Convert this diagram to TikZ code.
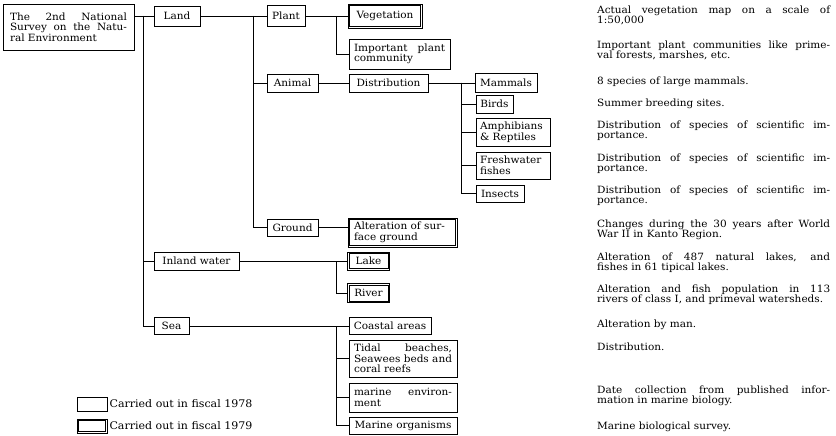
\documentclass[tikz,border=0pt]{standalone}
\usepackage{fontspec}
\setmainfont[FakeStretch=1.05]{DejaVu Serif}
\newcommand\jl[1]{\leavevmode\hbox to \hsize{\spaceskip=0.32em plus 6em minus 0.1em\relax #1}}
\begin{document}
\begin{tikzpicture}[x=1pt,y=-1pt,
  every node/.style={font=\fontsize{10pt}{10.5pt}\selectfont},
  box/.style={draw, line width=0.8pt, inner xsep=4pt, inner ysep=1pt, anchor=center, align=left},
  dbox/.style={box, line width=0.7pt},
  inner/.style={line width=0.7pt},
  desc/.style={anchor=north west, text width=233pt, inner sep=0pt, align=left},
  conn/.style={line width=0.8pt},
  legtext/.style={anchor=west, inner xsep=2pt, font=\fontsize{10.5pt}{11pt}\selectfont}]
\fill[white] (0,0) rectangle (836,436);
\useasboundingbox (0,0) rectangle (836,436);
% boxes
\node[box, text width=117pt, inner xsep=7pt, minimum height=46pt] (root) at (68.5,27)
  {\jl{The 2nd National}\\ \jl{Survey on the Natu-}\\ ral Environment};
\node[box, minimum width=46pt, minimum height=20pt] (land) at (177,16) {Land};
\node[box, minimum width=38pt, minimum height=21pt] (plant) at (286,16) {Plant};
\node[dbox, minimum width=74pt, minimum height=24pt] (veg) at (385,16) {Vegetation};
\node[box, text width=91pt, inner xsep=5pt, minimum height=30pt] (imp) at (399.5,54)
  {\jl{Important plant}\\ community};
\node[box, minimum width=51pt, minimum height=18pt] (animal) at (292.5,83) {Animal};
\node[box, minimum width=79pt, minimum height=18pt] (dist) at (388.5,83) {Distribution};
\node[box, minimum width=62pt, minimum height=19pt] (mam) at (506,83) {Mammals};
\node[box, minimum width=37pt, minimum height=18pt] (birds) at (494.5,104) {Birds};
\node[box, text width=66pt, minimum height=28pt] (amph) at (513,132) {Amphibians\\ \& Reptiles};
\node[box, text width=66pt, minimum height=27pt] (fresh) at (513,165.5) {Freshwater\\ fishes};
\node[box, minimum width=48pt, minimum height=17pt] (insects) at (500,193.5) {Insects};
\node[box, minimum width=51pt, minimum height=17pt] (ground) at (292.5,227.5) {Ground};
\node[dbox, text width=97pt, inner xsep=6pt, minimum height=29pt] (alt) at (402.5,232.5)
  {Alteration of sur-\\ face ground};
\node[box, minimum width=85pt, minimum height=18pt] (inland) at (196.5,261) {Inland water};
\node[dbox, minimum width=42pt, minimum height=18pt] (lake) at (368.5,261) {Lake};
\node[dbox, minimum width=42pt, minimum height=19pt] (river) at (368.5,293) {River};
\node[box, minimum width=35pt, minimum height=17pt] (sea) at (171.5,326) {Sea};
\node[box, minimum width=82pt, minimum height=17pt] (coast) at (390,326) {Coastal areas};
\node[box, text width=98pt, inner xsep=5pt, minimum height=37pt] (tidal) at (403,358.5)
  {\jl{Tidal beaches,}\\ \jl{Seawees beds and}\\ coral reefs};
\node[box, text width=98pt, inner xsep=5pt, minimum height=29pt] (menv) at (403,397.5)
  {\jl{marine environ-}\\ ment};
\node[box, minimum width=108pt, minimum height=17pt] (morg) at (403,425.5) {Marine organisms};
% legend
\node[box, minimum width=30pt, minimum height=14pt] (leg1) at (92,404) {};
\node[dbox, minimum width=30pt, minimum height=14pt] (leg2) at (92,426) {};
\node[legtext] (leg1t) at (leg1.east) {Carried out in fiscal 1978};
\node[legtext] (leg2t) at (leg2.east) {Carried out in fiscal 1979};
% inner frames of the double boxes
\foreach \n in {veg,alt,lake,river,leg2}
  \draw[inner] ([xshift=2pt,yshift=-2pt]\n.north west) rectangle ([xshift=-2pt,yshift=2pt]\n.south east);
% connectors
\path (land.west) ++(-10,0) coordinate (t1);
\path (plant.west) ++(-13,0) coordinate (t2);
\path (veg.west) ++(-11,0) coordinate (t3);
\path (mam.west) ++(-13,0) coordinate (t4);
\path (lake.west) ++(-11,0) coordinate (t5);
\path (coast.west) ++(-12,0) coordinate (t6);
\draw[conn] (root.east |- land.west) -- (land.west);
\draw[conn] (t1) |- (inland.west);
\draw[conn] (t1) |- (sea.west);
\draw[conn] (land.east) -- (plant.west);
\draw[conn] (t2) |- (animal.west);
\draw[conn] (t2) |- (ground.west);
\draw[conn] (plant.east) -- (veg.west);
\draw[conn] (t3) |- (imp.west);
\draw[conn] (animal.east) -- (dist.west);
\draw[conn] (dist.east) -- (mam.west);
\draw[conn] (t4) |- (birds.west);
\draw[conn] (t4) |- (amph.west);
\draw[conn] (t4) |- (fresh.west);
\draw[conn] (t4) |- (insects.west);
\draw[conn] (ground.east) -- (ground.east -| alt.west);
\draw[conn] (inland.east) -- (lake.west);
\draw[conn] (t5) |- (river.west);
\draw[conn] (sea.east) -- (coast.west);
\draw[conn] (t6) |- (tidal.west);
\draw[conn] (t6) |- (menv.west);
\draw[conn] (t6) |- (morg.west);
% descriptions
\node[desc] (d1) at (597,5.5) {\jl{Actual vegetation map on a scale of}\\ 1:50,000};
\node[desc] (d2) at (597,40.5) {\jl{Important plant communities like prime-}\\ val forests, marshes, etc.};
\node[desc] (d3) at (597,76.5) {8 species of large mammals.};
\node[desc] (d4) at (597,98.5) {Summer breeding sites.};
\node[desc] (d5) at (597,120.5) {\jl{Distribution of species of scientific im-}\\ portance.};
\node[desc] (d6) at (597,153.5) {\jl{Distribution of species of scientific im-}\\ portance.};
\node[desc] (d7) at (597,185.5) {\jl{Distribution of species of scientific im-}\\ portance.};
\node[desc] (d8) at (597,219.5) {\jl{Changes during the 30 years after World}\\ War II in Kanto Region.};
\node[desc] (d9) at (597,252.5) {\jl{Alteration of 487 natural lakes, and}\\ fishes in 61 tipical lakes.};
\node[desc] (d10) at (597,284.5) {\jl{Alteration and fish population in 113}\\ rivers of class I, and primeval watersheds.};
\node[desc] (d11) at (597,319.5) {Alteration by man.};
\node[desc] (d12) at (597,342.5) {Distribution.};
\node[desc] (d13) at (597,385.5) {\jl{Date collection from published infor-}\\ mation in marine biology.};
\node[desc] (d14) at (597,421.5) {Marine biological survey.};
\end{tikzpicture}
\end{document}
